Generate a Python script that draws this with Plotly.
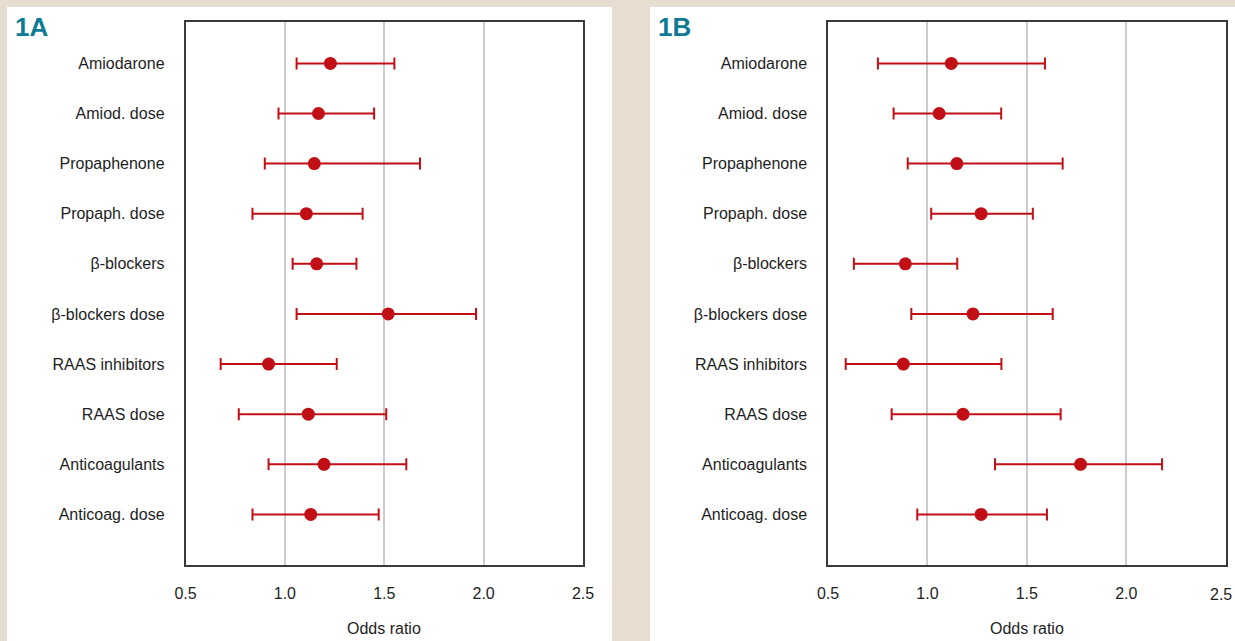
import plotly.graph_objects as go

categories = ["Amiodarone", "Amiod. dose", "Propaphenone", "Propaph. dose", "β-blockers",
              "β-blockers dose", "RAAS inhibitors", "RAAS dose", "Anticoagulants", "Anticoag. dose"]

a_or = [1.229, 1.169, 1.148, 1.108, 1.160, 1.520, 0.918, 1.118, 1.197, 1.130]
a_lo = [1.059, 0.968, 0.899, 0.837, 1.039, 1.059, 0.677, 0.768, 0.918, 0.837]
a_hi = [1.551, 1.449, 1.680, 1.391, 1.360, 1.962, 1.261, 1.510, 1.611, 1.472]

b_or = [1.120, 1.059, 1.148, 1.270, 0.889, 1.229, 0.879, 1.179, 1.770, 1.270]
b_lo = [0.751, 0.830, 0.901, 1.019, 0.630, 0.919, 0.589, 0.820, 1.340, 0.949]
b_hi = [1.591, 1.371, 1.680, 1.530, 1.150, 1.630, 1.372, 1.670, 2.180, 1.601]

x_ticks = [0.5, 1.0, 1.5, 2.0, 2.5]
x_ticktext = ["0.5", "1.0", "1.5", "2.0", "2.5"]
panel_labels = ["1A", "1B"]
x_title = "Odds ratio"

W, H = 1235, 641
RED = "#c10f16"
BEIGE = "#e7ddd1"
TXT = "#1e1e1e"
FONT = "Liberation Sans, Arial, sans-serif"

def px(x):
    return x / W

def py(y):
    return 1 - y / H

fig = go.Figure()

for i, (o, lo, hi) in enumerate([(a_or, a_lo, a_hi), (b_or, b_lo, b_hi)]):
    ax = "" if i == 0 else "2"
    fig.add_trace(go.Scatter(
        x=o, y=categories, mode="markers",
        marker=dict(size=13, color=RED),
        error_x=dict(type="data", symmetric=False,
                     array=[h - v for h, v in zip(hi, o)],
                     arrayminus=[v - l for v, l in zip(o, lo)],
                     color=RED, thickness=2, width=6),
        xaxis="x" + ax, yaxis="y" + ax, showlegend=False, hoverinfo="skip",
    ))

xdoms = [[px(185.5), px(583)], [px(828), px(1225.7)]]
ydom = [py(564.5), py(22.3)]

common_x = dict(range=[0.5, 2.5], tickvals=x_ticks,
                showgrid=True, gridcolor="#cccccc", gridwidth=1.5,
                zeroline=False, showline=True, mirror=True, linecolor="#3a3a3a",
                linewidth=1.5, ticks="", ticklabelstandoff=14, automargin=False,
                ticklabeloverflow="allow",
                tickfont=dict(family=FONT, size=16, color=TXT), fixedrange=True)
common_y = dict(type="category", categoryorder="array", categoryarray=categories,
                range=[10.0, -0.82], autorange=False, showgrid=False, zeroline=False,
                showline=True, mirror=True, linecolor="#3a3a3a", linewidth=1.5,
                ticks="", ticklabelstandoff=16, automargin=False,
                ticklabeloverflow="allow",
                tickfont=dict(family=FONT, size=16, color=TXT), fixedrange=True)

# panel B: last tick label would be clipped by the page edge -> drawn as annotation
b_ticktext = x_ticktext[:-1] + [""]

fig.update_layout(
    width=W, height=H, autosize=False,
    margin=dict(l=0, r=0, t=0, b=0, pad=0),
    paper_bgcolor=BEIGE, plot_bgcolor="white",
    xaxis=dict(domain=xdoms[0], anchor="y", ticktext=x_ticktext, **common_x),
    yaxis=dict(domain=ydom, anchor="x", **common_y),
    xaxis2=dict(domain=xdoms[1], anchor="y2", ticktext=b_ticktext, **common_x),
    yaxis2=dict(domain=ydom, anchor="x2", **common_y),
    shapes=[
        dict(type="rect", xref="paper", yref="paper", x0=px(7), x1=px(612), y0=0, y1=py(7),
             fillcolor="white", line=dict(width=0), layer="below"),
        dict(type="rect", xref="paper", yref="paper", x0=px(650), x1=1, y0=0, y1=py(7),
             fillcolor="white", line=dict(width=0), layer="below"),
    ],
    annotations=[
        dict(text="<b>%s</b>" % panel_labels[0], xref="paper", yref="paper", x=px(13), y=py(27),
             xanchor="left", yanchor="middle", showarrow=False,
             font=dict(family=FONT, size=26, color="#0f7a96")),
        dict(text="<b>%s</b>" % panel_labels[1], xref="paper", yref="paper", x=px(656), y=py(27),
             xanchor="left", yanchor="middle", showarrow=False,
             font=dict(family=FONT, size=26, color="#0f7a96")),
        dict(text=x_title, xref="paper", yref="paper", x=(xdoms[0][0] + xdoms[0][1]) / 2, y=py(628),
             xanchor="center", yanchor="middle", showarrow=False,
             font=dict(family=FONT, size=16, color=TXT)),
        dict(text=x_title, xref="paper", yref="paper", x=(xdoms[1][0] + xdoms[1][1]) / 2, y=py(628),
             xanchor="center", yanchor="middle", showarrow=False,
             font=dict(family=FONT, size=16, color=TXT)),
        dict(text=x_ticktext[-1], xref="paper", yref="paper", x=px(1234), y=py(594),
             xanchor="right", yanchor="middle", showarrow=False,
             font=dict(family=FONT, size=16, color=TXT)),
    ],
)

fig.write_html("out.html", config={"displayModeBar": False},
               post_script="document.body.style.margin='0';document.body.style.overflow='hidden';")
